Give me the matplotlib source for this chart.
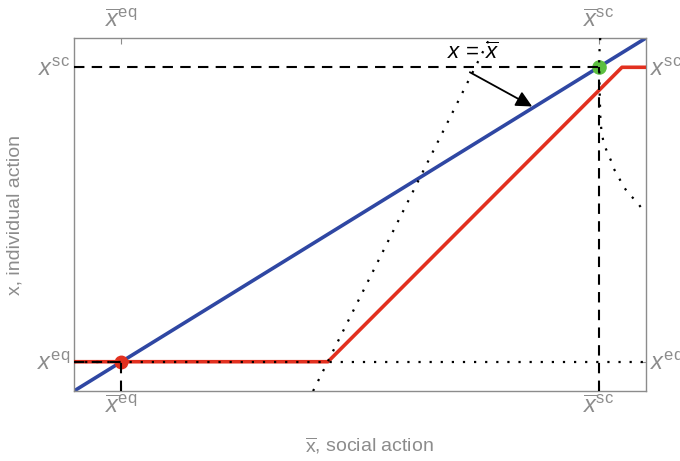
import matplotlib
matplotlib.use("Agg")
import matplotlib.pyplot as plt

plt.rcParams["font.family"] = ["Liberation Sans", "DejaVu Sans"]
plt.rcParams["mathtext.fontset"] = "custom"
plt.rcParams["mathtext.rm"] = "Liberation Sans"
plt.rcParams["mathtext.it"] = "Liberation Sans:italic"

GRAY = "#8c8c8c"

# equilibrium and social-optimum actions
x_eq = 0.083
x_sc = 0.917

# best response (red), piecewise linear
br_social = [0.0, 0.444, 0.958, 1.0]
br_indiv = [x_eq, x_eq, x_sc, x_sc]

# dotted guide curves
steep_social = [0.418, 0.727]
steep_indiv = [0.0, 1.0]
curve_social = [0.920, 0.918, 0.919, 0.920, 0.921, 0.923, 0.926, 0.932, 0.939,
                0.944, 0.953, 0.960, 0.970, 0.983, 0.993, 1.0]
curve_indiv = [1.0, 0.943, 0.85, 0.782, 0.754, 0.728, 0.703, 0.677, 0.652,
               0.629, 0.603, 0.581, 0.558, 0.538, 0.516, 0.507]

fig = plt.figure(figsize=(6.8, 4.61), dpi=100)
ax = fig.add_axes([0.1088, 0.1518, 0.8412, 0.7658])
ax.set_xlim(0, 1)
ax.set_ylim(0, 1)

# 45-degree line x = x-bar
ax.plot([0, 1], [0, 1], color="#2f47a3", lw=2.6, zorder=2)
ax.plot(br_social, br_indiv, color="#e2301f", lw=2.6, zorder=3)

dots = (0, (1, 4))
ax.plot([0, 1], [x_eq, x_eq], color="black", lw=1.6, ls=dots, zorder=5)
ax.plot(steep_social, steep_indiv, color="black", lw=1.6, ls=dots, zorder=5)
ax.plot(curve_social, curve_indiv, color="black", lw=1.6, ls=dots, zorder=5)

ax.plot([x_eq], [x_eq], "o", color="#e2301f", ms=9, zorder=4)
ax.plot([x_sc], [x_sc], "o", color="#5cbf3f", ms=9.5, zorder=4)

dash = (0, (5, 3.5))
for v in (x_eq, x_sc):
    ax.plot([0, v], [v, v], color="black", lw=1.5, ls=dash, zorder=6)
    ax.plot([v, v], [0, v], color="black", lw=1.5, ls=dash, zorder=6)

ax.text(0.698, 0.925, r"$x\,=\,\overline{x}$", fontsize=16, ha="center",
        va="bottom", color="black", zorder=7)
ax.annotate("", xy=(0.801, 0.806), xytext=(0.692, 0.903),
            arrowprops=dict(arrowstyle="-|>", color="black", lw=1.3,
                            mutation_scale=24, shrinkA=0, shrinkB=0),
            zorder=7)

for side in ax.spines.values():
    side.set_color(GRAY)
    side.set_linewidth(1.0)

ax.set_xticks([x_eq, x_sc])
ax.set_xticklabels([r"$\overline{x}^{\mathrm{eq}}$", r"$\overline{x}^{\mathrm{sc}}$"])
ax.set_yticks([x_eq, x_sc])
ax.set_yticklabels([r"$x^{\mathrm{eq}}$", r"$x^{\mathrm{sc}}$"])
ax.tick_params(axis="both", direction="in", length=4, color=GRAY,
               labelcolor=GRAY, labelsize=17, pad=4,
               top=True, right=True, labeltop=True, labelright=True)
ax.tick_params(axis="y", pad=3)

ax.set_xlabel(r"$\overline{\mathrm{x}}$, social action", fontsize=14, color=GRAY)
ax.xaxis.set_label_coords(0.517, -0.125)
ax.set_ylabel("x, individual action", fontsize=14, color=GRAY)
ax.yaxis.set_label_coords(-0.088, 0.5)

fig.savefig("out.png", dpi=100)
